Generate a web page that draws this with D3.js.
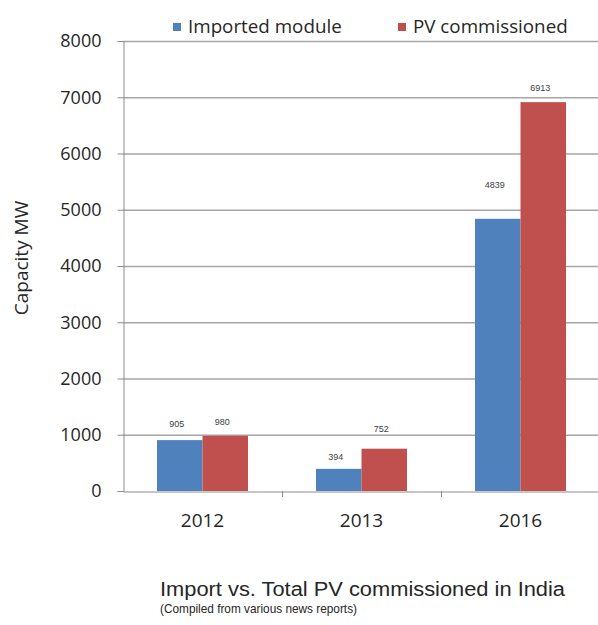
<!DOCTYPE html>
<html>
<head>
<meta charset="utf-8">
<script src="https://cdn.jsdelivr.net/npm/d3@7"></script>
<style>
  html, body { margin: 0; padding: 0; background: #fff; }
  svg { display: block; }
  .ui { font-family: "Open Sans", "Liberation Sans", sans-serif; fill: #262626; }
  .cap { font-family: "Liberation Sans", Arial, sans-serif; fill: #262626; }
</style>
</head>
<body>
<svg id="chart" width="598" height="625"></svg>
<script>
// Installed capacity (MW) by year
const years = ["2012", "2013", "2016"];
const seriesNames = ["Imported module", "PV commissioned"];
const importedModule = [905, 394, 4839];
const pvCommissioned = [980, 752, 6913];
const yTicks = [0, 1000, 2000, 3000, 4000, 5000, 6000, 7000, 8000];

const colors = ["#4F81BD", "#C0504D"];
const seriesValues = [importedModule, pvCommissioned];

const svg = d3.select("#chart");
const plot = { left: 123, right: 600, top: 41, bottom: 491 };

const x0 = d3.scaleBand().domain(years).range([plot.left, plot.right]);
const x1 = d3.scaleBand().domain(seriesNames).range([34, x0.bandwidth() - 34]);
const y = d3.scaleLinear().domain([0, 8000]).range([plot.bottom, plot.top]);

// horizontal gridlines
svg.append("g")
  .selectAll("line")
  .data(yTicks.filter(d => d > 0))
  .join("line")
  .attr("x1", plot.left).attr("x2", plot.right)
  .attr("y1", d => y(d) + 0.5).attr("y2", d => y(d) + 0.5)
  .attr("stroke", "#a6a6a6").attr("stroke-width", 1.3);

// y axis
const yAxis = svg.append("g")
  .attr("transform", `translate(${plot.left + 0.5},0)`)
  .call(d3.axisLeft(y).tickValues(yTicks).tickSize(6).tickPadding(16).tickFormat(d3.format("d")));
yAxis.select(".domain").attr("stroke", "#8c8c8c");
yAxis.selectAll(".tick line").attr("stroke", "#8c8c8c");
yAxis.selectAll(".tick text").attr("class", "ui").style("font-size", "18px").attr("fill", "#262626");

// bars
const groups = svg.append("g")
  .selectAll("g")
  .data(years)
  .join("g")
  .attr("transform", d => `translate(${x0(d)},0)`);

groups.selectAll("rect")
  .data((d, i) => seriesNames.map((s, j) => ({ s, j, v: seriesValues[j][i] })))
  .join("rect")
  .attr("x", d => x1(d.s))
  .attr("width", x1.bandwidth())
  .attr("y", d => y(d.v))
  .attr("height", d => y(0) - y(d.v))
  .attr("fill", d => colors[d.j]);

// data labels, lifted above each bar
const labelLift = [[13, 11], [9, 17], [31, 11]];
groups.selectAll("text.val")
  .data((d, i) => seriesNames.map((s, j) => ({ s, j, i, v: seriesValues[j][i] })))
  .join("text")
  .attr("class", "val")
  .attr("x", d => x1(d.s) + x1.bandwidth() / 2 - 3)
  .attr("y", d => y(d.v) - labelLift[d.i][d.j])
  .attr("text-anchor", "middle")
  .style("font-family", "'Liberation Sans', Arial, sans-serif")
  .style("font-size", "9px")
  .attr("fill", "#404040")
  .text(d => d.v);

// x axis
const xAxis = svg.append("g")
  .attr("transform", `translate(0,${plot.bottom + 0.5})`)
  .call(d3.axisBottom(x0).tickSize(0).tickPadding(22));
xAxis.select(".domain").attr("stroke", "#8c8c8c");
xAxis.selectAll(".tick text").attr("class", "ui").style("font-size", "19px").attr("fill", "#262626");
// category separator ticks
svg.append("g")
  .selectAll("line")
  .data(years.slice(1))
  .join("line")
  .attr("x1", d => x0(d) + 0.5).attr("x2", d => x0(d) + 0.5)
  .attr("y1", plot.bottom).attr("y2", plot.bottom + 6)
  .attr("stroke", "#8c8c8c");

// y axis title
svg.append("text")
  .attr("class", "ui")
  .attr("transform", "translate(28,258) rotate(-90)")
  .attr("text-anchor", "middle")
  .style("font-size", "19px")
  .text("Capacity MW");

// legend
const legendX = [173, 398];
const legend = svg.append("g")
  .selectAll("g")
  .data(seriesNames)
  .join("g")
  .attr("transform", (d, i) => `translate(${legendX[i]},23)`);
legend.append("rect").attr("width", 8).attr("height", 8).attr("fill", (d, i) => colors[i]);
legend.append("text")
  .attr("class", "ui")
  .attr("x", 15).attr("y", 10)
  .style("font-size", "18.8px")
  .text(d => d);

// caption
svg.append("text")
  .attr("class", "cap")
  .attr("x", 160).attr("y", 596)
  .attr("textLength", 405).attr("lengthAdjust", "spacingAndGlyphs")
  .style("font-size", "20px")
  .text("Import vs. Total PV commissioned in India");
svg.append("text")
  .attr("class", "cap")
  .attr("x", 160).attr("y", 613)
  .attr("textLength", 197).attr("lengthAdjust", "spacingAndGlyphs")
  .style("font-size", "13.5px")
  .text("(Compiled from various news reports)");
</script>
</body>
</html>
